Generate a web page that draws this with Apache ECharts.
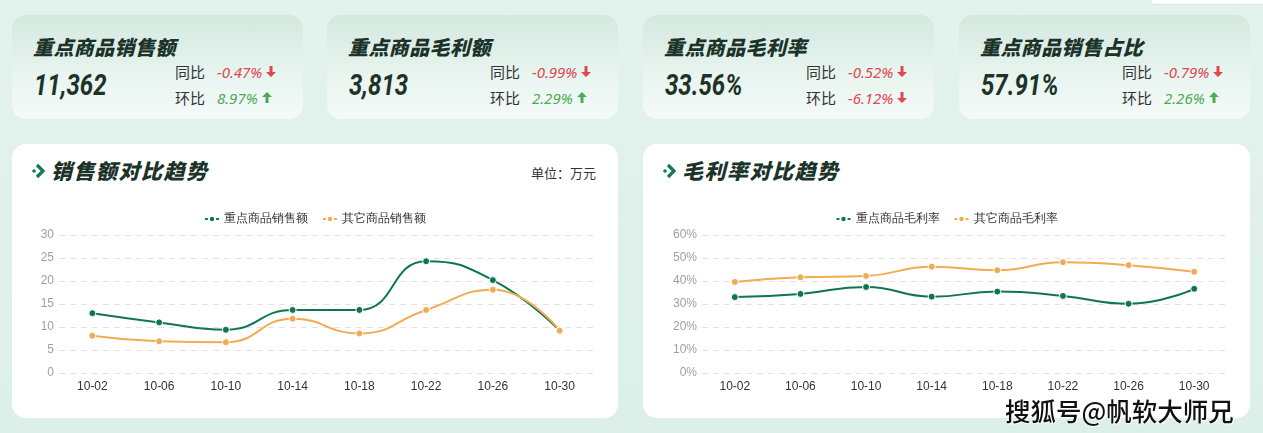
<!DOCTYPE html>
<html>
<head>
<meta charset="utf-8">
<script src="https://cdn.jsdelivr.net/npm/echarts@6/dist/echarts.min.js"></script>
<style>
  html, body { margin: 0; padding: 0; }
  body {
    width: 1263px; height: 433px; overflow: hidden; position: relative;
    background: linear-gradient(180deg, #e3f2ed 0%, #dcefe8 100%);
    font-family: "Noto Sans CJK SC", "Noto Sans", sans-serif;
  }
  .topbox {
    position: absolute; left: 1150px; top: -10px; width: 125px; height: 13px;
    background: #fff; border: 1px solid #d8e3df; border-radius: 4px;
  }
  .card {
    position: absolute; top: 15px; width: 291px; height: 104px; border-radius: 14px;
    background: linear-gradient(180deg, #d3e8e0 0%, #e9f5f0 60%, #f4faf8 100%);
  }
  .card .title {
    position: absolute; left: 21px; top: 17px; font-size: 20px; font-weight: 900;
    font-style: italic; color: #1b3328; letter-spacing: 0.4px;
  }
  .card .big {
    position: absolute; left: 22px; top: 52px; font-family: Roboto, sans-serif;
    font-size: 30px; font-weight: 700; font-style: italic; color: #1d3328;
    transform: scaleX(0.8); transform-origin: left center; white-space: nowrap;
  }
  .card .row { position: absolute; left: 163px; font-size: 15px; color: #333; white-space: nowrap; display: flex; align-items: center; }
  .card .row .v { margin-left: 12px; font-size: 15px; font-style: italic; font-family: "Noto Sans", sans-serif; }
  .card .row svg { margin-left: 4px; }
  .red { color: #e0474f; }
  .green { color: #4caa55; }
  .panel {
    position: absolute; top: 144px; width: 606px; height: 274px; background: #fff; border-radius: 14px;
  }
  .panel .ptitle {
    position: absolute; left: 39px; top: 11px; font-size: 21px; font-weight: 900; font-style: italic;
    color: #1b3328; letter-spacing: 1.5px;
  }
  .panel svg.chev { position: absolute; left: 20px; top: 19px; }
  .panel .unit { position: absolute; right: 22px; top: 19px; font-size: 13px; color: #333; }
  .panel .chart { position: absolute; left: 0; top: 0; width: 606px; height: 274px; }
  .wm {
    position: absolute; left: 1005px; top: 391px; font-size: 25.5px; font-weight: 500; color: #111;
    text-shadow: 0 0 2px #fff, 0 0 2px #fff, 1px 1px 1px #fff;
    white-space: nowrap;
  }
</style>
</head>
<body>
<div class="topbox"></div>

<div id="cards"></div>

<div class="panel" style="left:12px">
  <svg class="chev" width="14" height="16" viewBox="0 0 14 16">
    <circle cx="2" cy="8" r="1.8" fill="#127a52"/>
    <polyline points="5,2 11,8 5,14" fill="none" stroke="#127a52" stroke-width="3.2"/>
  </svg>
  <div class="ptitle">销售额对比趋势</div>
  <div class="unit">单位：万元</div>
  <div class="chart" id="salesChart"></div>
</div>

<div class="panel" style="left:643px;width:607px">
  <svg class="chev" width="14" height="16" viewBox="0 0 14 16">
    <circle cx="2" cy="8" r="1.8" fill="#127a52"/>
    <polyline points="5,2 11,8 5,14" fill="none" stroke="#127a52" stroke-width="3.2"/>
  </svg>
  <div class="ptitle">毛利率对比趋势</div>
  <div class="chart" id="marginChart" style="width:607px"></div>
</div>

<div class="wm">搜狐号@帆软大师兄</div>

<script>
// KPI 卡片
const kpiTitles = ["重点商品销售额", "重点商品毛利额", "重点商品毛利率", "重点商品销售占比"]
const kpiValues = ["11,362", "3,813", "33.56%", "57.91%"]
const yoyValues = [-0.47, -0.99, -0.52, -0.79]
const momValues = [8.97, 2.29, -6.12, 2.26]

// 趋势图
const dates = ["10-02", "10-06", "10-10", "10-14", "10-18", "10-22", "10-26", "10-30"]
const keySales = [13.0, 11.0, 9.4, 13.7, 13.7, 24.3, 20.2, 9.2]
const otherSales = [8.1, 6.9, 6.7, 11.8, 8.6, 13.7, 18.1, 9.2]
const keyMargin = [33.0, 34.4, 37.4, 33.2, 35.4, 33.5, 30.1, 36.6]
const otherMargin = [39.6, 41.6, 42.2, 46.2, 44.7, 48.2, 46.9, 44.0]

const cardLefts = [12, 327, 643, 959]
const arrowSvg = (up) => {
  const c = up ? "#4caa55" : "#e0474f"
  const pts = up ? "5,0 10,5 6.5,5 6.5,11 3.5,11 3.5,5 0,5" : "3.5,0 6.5,0 6.5,6 10,6 5,11 0,6 3.5,6"
  return `<svg width="10" height="11" viewBox="0 0 10 11"><polygon points="${pts}" fill="${c}"/></svg>`
}
const pctRow = (label, val, top) => {
  const up = val >= 0
  return `<div class="row" style="top:${top}px">${label}<span class="v ${up ? "green" : "red"}">${val.toFixed(2)}%</span>${arrowSvg(up)}</div>`
}
document.getElementById("cards").innerHTML = kpiTitles.map((t, i) => `
  <div class="card" style="left:${cardLefts[i]}px">
    <div class="title">${t}</div>
    <div class="big">${kpiValues[i]}</div>
    ${pctRow("同比", yoyValues[i], 46)}
    ${pctRow("环比", momValues[i], 72)}
  </div>`).join("")

const GREEN = "#0f7652"
const ORANGE = "#f2ab52"

function lineOption(names, a, b, grid, yMax, yInterval, fmt) {
  return {
    animation: false,
    color: [GREEN, ORANGE],
    legend: {
      top: 64,
      left: "center",
      itemWidth: 14,
      itemHeight: 8,
      itemGap: 14,
      textStyle: { color: "#333", fontSize: 12 },
      data: names,
    },
    grid: grid,
    xAxis: {
      type: "category",
      data: dates,
      axisLine: { show: false },
      axisTick: { show: false },
      axisLabel: { color: "#333", fontSize: 12, margin: 8 },
    },
    yAxis: {
      type: "value",
      min: 0,
      max: yMax,
      interval: yInterval,
      axisLabel: { color: "#a0a0a0", fontSize: 12, formatter: fmt, margin: 5 },
      splitLine: { lineStyle: { color: "#e3e3e3", type: [6, 5] } },
    },
    series: [
      {
        name: names[0], type: "line", data: a, smooth: true, symbol: "circle", symbolSize: 7,
        lineStyle: { width: 2, color: GREEN },
        itemStyle: { color: GREEN, borderColor: "#fff", borderWidth: 1 },
      },
      {
        name: names[1], type: "line", data: b, smooth: true, symbol: "circle", symbolSize: 7,
        lineStyle: { width: 2, color: ORANGE },
        itemStyle: { color: ORANGE, borderColor: "#fff", borderWidth: 1 },
      },
    ],
  }
}

const salesChart = echarts.init(document.getElementById("salesChart"))
salesChart.setOption(lineOption(["重点商品销售额", "其它商品销售额"], keySales, otherSales,
  { left: 47, right: 25, top: 91, bottom: 45 }, 30, 5, "{value}"))

const marginChart = echarts.init(document.getElementById("marginChart"))
marginChart.setOption(lineOption(["重点商品毛利率", "其它商品毛利率"], keyMargin, otherMargin,
  { left: 59, right: 23, top: 91, bottom: 45 }, 60, 10, "{value}%"))
</script>
</body>
</html>
